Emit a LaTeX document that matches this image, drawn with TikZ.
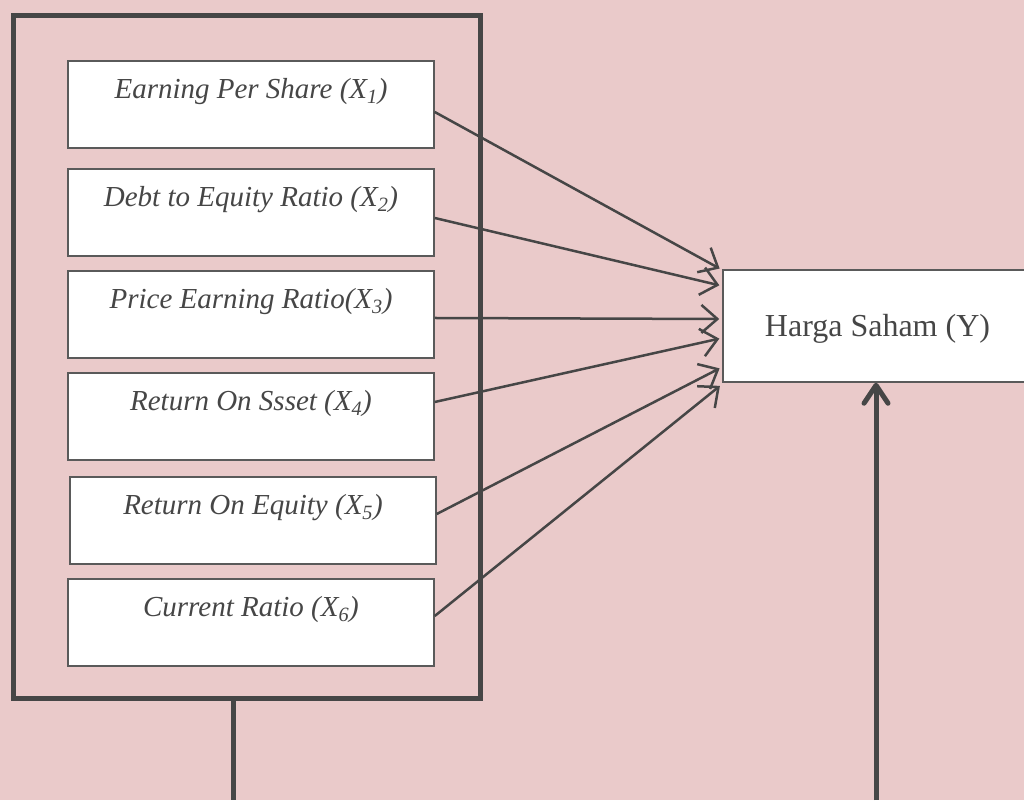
\documentclass[tikz,border=0pt]{standalone}
\usepackage{fontspec}
\setmainfont{Liberation Serif}
\usetikzlibrary{arrows.meta,positioning}
\definecolor{bgpink}{HTML}{EACACA}
\definecolor{linegray}{HTML}{464646}
\definecolor{boxgray}{HTML}{5A5A5A}
\tikzset{
  varbox/.style={
    rectangle,
    draw=boxgray,
    line width=1.5pt,
    fill=white,
    inner sep=0pt,
    minimum width=366pt,
    text height=38pt,
    text depth=49pt,
    text=linegray,
    font=\fontsize{29}{34}\selectfont\itshape
  },
  resultbox/.style={
    rectangle,
    draw=boxgray,
    line width=1.5pt,
    fill=white,
    inner sep=0pt,
    minimum width=309pt,
    text height=67pt,
    text depth=45pt,
    text=linegray,
    font=\fontsize{32}{38}\selectfont
  },
  groupframe/.style={
    rectangle,
    draw=linegray,
    line width=5pt,
    inner sep=0pt,
    minimum width=467pt,
    minimum height=682pt
  },
  flow/.style={
    draw=linegray,
    line width=2.5pt,
    shorten >=3pt,
    -{Straight Barb[length=16pt,width=28pt]}
  },
  thickline/.style={
    draw=linegray,
    line width=5pt
  }
}

\begin{document}
\begin{tikzpicture}[x=1pt,y=1pt]
    \path[use as bounding box, fill=bgpink] (0,0) rectangle (1024,800);

    \pgfmathsetmacro{\boxX}{251}

    % Independent variables
    \node[varbox] (var1) at (\boxX,695.5) {Earning Per Share (X\textsubscript{1})};
    \node[varbox] (var2) at (\boxX,587.5) {Debt to Equity Ratio (X\textsubscript{2})};
    \node[varbox] (var3) at (\boxX,485.5) {Price Earning Ratio(X\textsubscript{3})};
    \node[varbox] (var4) at (\boxX,383.5) {Return On Ssset (X\textsubscript{4})};
    \node[varbox] (var5) at (\boxX+2,279.5) {Return On Equity (X\textsubscript{5})};
    \node[varbox] (var6) at (\boxX,177.5) {Current Ratio (X\textsubscript{6})};

    % Dependent variable
    \node[resultbox] (harga) at (877.5,474) {Harga Saham (Y)};

    % Partial effects
    \foreach \ii/\sy/\ey in {1/-7.5/56, 2/-5.5/40, 3/-3.5/7, 4/14.5/-12, 5/6.5/-41, 6/6.5/-58}{
        \draw[flow] ([yshift=\sy pt]var\ii.east) -- ([yshift=\ey pt]harga.west);
    }

    % Group frame
    \node[groupframe] (group) at (246.5,443) {};

    % Joint effect
    \coordinate (grouplow) at (233,0);
    \coordinate (hargalow) at (876,0);
    \draw[thickline] (grouplow |- group.south) -- (grouplow);
    \draw[thickline,-{Straight Barb[length=18pt,width=24pt,round]}] (hargalow) -- (hargalow |- harga.south);
\end{tikzpicture}
\end{document}
